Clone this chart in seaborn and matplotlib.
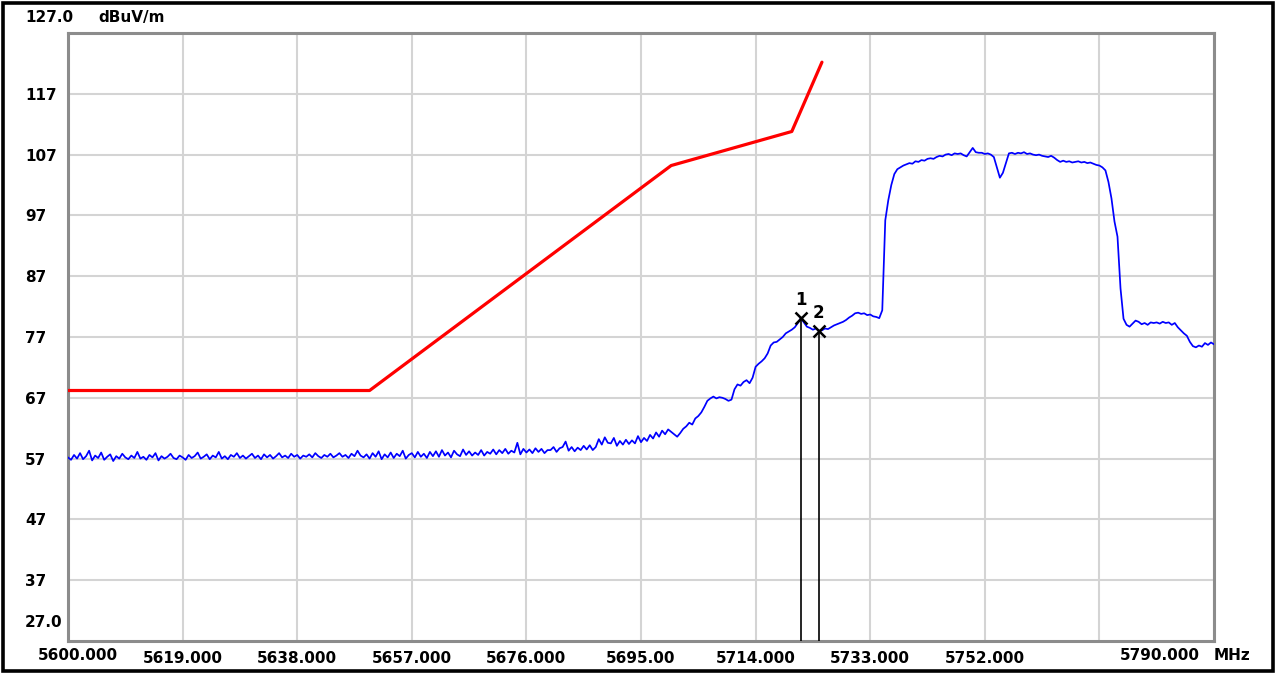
import numpy as np
import pandas as pd
import matplotlib
matplotlib.use("Agg")
import matplotlib.pyplot as plt
from matplotlib.patches import Rectangle
import seaborn as sns

# Sweep settings (MHz) and measured trace, 0.5 MHz per point
F_START = 5600.0
F_STOP = 5790.0
trace_dbuv = [
    # 5600 - 5609.5
    57.2, 56.8, 57.6, 57.0, 57.9, 56.9, 57.4, 58.3, 56.7, 57.5, 57.1, 58.0, 56.8, 57.3, 57.7, 56.6, 57.4, 57.0, 57.8, 57.2,
    # 5610 - 5619.5
    56.9, 57.5, 57.1, 58.1, 57.0, 57.3, 56.8, 57.6, 57.2, 57.9, 56.7, 57.4, 57.0, 57.3, 57.8, 57.1, 56.9, 57.5, 57.2, 56.8,
    # 5620 - 5629.5
    57.6, 57.1, 57.4, 58.0, 57.0, 57.3, 57.7, 56.9, 57.5, 57.2, 58.1, 57.0, 57.4, 56.9, 57.6, 57.3, 57.9, 57.1, 57.5, 57.0,
    # 5630 - 5639.5
    57.4, 57.8, 57.1, 57.5, 56.9, 57.7, 57.2, 57.6, 57.0, 57.4, 57.9, 57.2, 57.5, 57.1, 57.8, 57.3, 57.6, 57.0, 57.5, 57.3,
    # 5640 - 5649.5
    57.7, 57.2, 57.9, 57.4, 57.1, 57.6, 57.3, 57.8, 57.2, 57.5, 57.9, 57.3, 57.6, 57.1, 57.8, 57.4, 58.3, 57.5, 57.2, 57.7,
    # 5650 - 5659.5
    57.0, 57.9, 57.3, 58.2, 56.9, 57.7, 57.2, 58.0, 57.1, 57.8, 57.4, 58.3, 57.0, 57.6, 57.9, 57.2, 58.1, 57.3, 57.8, 57.1,
    # 5660 - 5669.5
    58.1, 57.4, 58.2, 57.3, 58.4, 57.5, 58.0, 57.2, 58.3, 57.7, 57.4, 58.5, 57.6, 58.2, 57.5, 58.0, 57.6, 58.4, 57.5, 58.1,
    # 5670 - 5679.5
    57.8, 58.5, 57.7, 58.4, 57.9, 58.6, 57.8, 58.3, 58.0, 59.6, 57.7, 58.6, 58.0, 58.5, 57.9, 58.7, 58.1, 58.6, 57.9, 58.4,
    # 5680 - 5689.5
    58.4, 58.9, 58.1, 58.7, 58.9, 59.8, 58.3, 58.9, 58.2, 58.8, 58.4, 59.1, 58.5, 59.2, 58.4, 58.9, 60.2, 59.3, 60.5, 59.6,
    # 5690 - 5699.5
    59.5, 60.4, 59.1, 59.9, 59.3, 60.1, 59.4, 60.0, 59.5, 60.7, 59.7, 60.4, 59.9, 60.9, 60.3, 61.3, 60.6, 61.6, 61.0, 61.8,
    # 5700 - 5709.5
    61.4, 61.0, 60.6, 61.2, 61.9, 62.3, 62.9, 62.6, 63.6, 64.0, 64.6, 65.5, 66.5, 66.9, 67.2, 66.9, 67.1, 67.0, 66.8, 66.5,
    # 5710 - 5719.5
    66.7, 68.4, 69.2, 69.0, 69.6, 69.9, 69.4, 70.3, 72.1, 72.6, 73.0, 73.5, 74.3, 75.6, 76.1, 76.2, 76.6, 77.0, 77.6, 77.9,
    # 5720 - 5729.5
    78.2, 78.6, 79.3, 80.1, 79.4, 78.7, 78.5, 78.2, 78.4, 78.0, 78.1, 78.4, 78.3, 78.6, 78.9, 79.1, 79.3, 79.5, 79.8, 80.2,
    # 5730 - 5739.5
    80.5, 80.9, 81.0, 80.8, 80.9, 80.6, 80.7, 80.4, 80.3, 80.1, 81.4, 96.2, 99.5, 102.0, 103.8, 104.6, 104.9, 105.2, 105.4, 105.6,
    # 5740 - 5749.5
    105.5, 105.9, 105.8, 106.1, 106.0, 106.3, 106.4, 106.3, 106.6, 106.8, 106.7, 107.0, 107.1, 106.9, 107.2, 107.1, 107.2, 106.9, 106.7, 107.4,
    # 5750 - 5759.5
    108.1, 107.4, 107.3, 107.3, 107.1, 107.2, 107.0, 106.6, 104.9, 103.2, 104.0, 105.6, 107.2, 107.3, 107.1, 107.3, 107.2, 107.4, 107.1, 107.2,
    # 5760 - 5769.5
    107.0, 106.9, 107.0, 106.8, 106.7, 106.6, 106.8, 106.5, 106.1, 105.8, 106.0, 105.8, 105.9, 105.7, 105.8, 105.9, 105.7, 105.8, 105.6, 105.7,
    # 5770 - 5779.5
    105.5, 105.3, 105.2, 104.9, 104.4, 102.5, 99.8, 96.0, 93.5, 85.0, 80.0, 79.0, 78.7, 79.2, 79.7, 79.5, 79.1, 79.3, 79.0, 79.4,
    # 5780 - 5790
    79.3, 79.4, 79.2, 79.5, 79.3, 79.4, 79.0, 79.3, 78.6, 78.1, 77.6, 77.2, 76.2, 75.5, 75.3, 75.6, 75.4, 76.0, 75.7, 76.1,
    75.8,
]

# Emission limit mask (dBuV/m)
mask_freq = [5600, 5650, 5700, 5720, 5725]
mask_level = [68.2, 68.2, 105.2, 110.8, 122.2]

# Markers
marker_freq = [5721.5, 5724.5]
marker_names = ["1", "2"]

# Axis scales and labels
Y_MIN, Y_MAX = 27.0, 127.0
y_grid = [37, 47, 57, 67, 77, 87, 97, 107, 117]
x_grid = [5600, 5619, 5638, 5657, 5676, 5695, 5714, 5733, 5752, 5771, 5790]
x_labels = ["", "5619.000", "5638.000", "5657.000", "5676.000", "5695.00",
            "5714.000", "5733.000", "5752.000", "", ""]

freq = np.linspace(F_START, F_STOP, len(trace_dbuv))
trace = pd.DataFrame({"freq": freq, "level": trace_dbuv})
mask = pd.DataFrame({"freq": mask_freq, "level": mask_level})

sns.set_theme(style="white")
plt.rcParams["font.family"] = ["DejaVu Sans"]
plt.rcParams["font.weight"] = "bold"

W, H = 1276, 673
fig = plt.figure(figsize=(W / 100, H / 100), dpi=100)
fig.patch.set_facecolor("white")
left, right, top, bottom = 68, 1214, 33, 641
ax = fig.add_axes([left / W, 1 - bottom / H, (right - left) / W, (bottom - top) / H])
ax.set_facecolor("white")

# Grid
ax.set_xlim(F_START, F_STOP)
ax.set_ylim(Y_MIN, Y_MAX)
ax.set_xticks(x_grid)
ax.set_xticklabels(x_labels, fontsize=11, fontweight="bold")
ax.set_yticks(y_grid)
ax.set_yticklabels([str(v) for v in y_grid], fontsize=11, fontweight="bold")
ax.grid(True, color="#d4d4d4", linewidth=1.5, zorder=0)
ax.set_axisbelow(True)
ax.tick_params(axis="both", length=0, colors="black")
ax.tick_params(axis="x", pad=7)
ax.tick_params(axis="y", pad=31)
for lbl in ax.get_yticklabels():
    lbl.set_horizontalalignment("left")
for sp in ax.spines.values():
    sp.set_color("#8c8c8c")
    sp.set_linewidth(2.2)

# Limit line and measured trace
sns.lineplot(data=mask, x="freq", y="level", color="#ff0000", linewidth=2.3,
             estimator=None, sort=False, ax=ax, zorder=3)
sns.lineplot(data=trace, x="freq", y="level", color="#0000ff", linewidth=1.25,
             estimator=None, sort=False, ax=ax, zorder=4)

# Markers with drop lines
for f, name in zip(marker_freq, marker_names):
    lvl = float(np.interp(f, freq, trace_dbuv))
    ax.vlines(f, Y_MIN, lvl, color="black", linewidth=1.2, zorder=5)
    ax.plot([f], [lvl], marker="x", markersize=8, markeredgewidth=1.8,
            color="black", linestyle="none", zorder=6)
    ax.annotate(name, xy=(f, lvl), xytext=(0, 13), textcoords="offset points",
                ha="center", va="center", fontsize=12, fontweight="bold",
                color="black", zorder=7)

ax.set_xlabel("")
ax.set_ylabel("")

# End-of-scale labels
lab_kw = dict(fontsize=11, fontweight="bold", color="black", annotation_clip=False)
ax.annotate("127.0", xy=(0, Y_MAX), xycoords=("axes fraction", "data"),
            xytext=(-31, 11), textcoords="offset points", ha="left", va="center", **lab_kw)
ax.annotate("dBuV/m", xy=(0, Y_MAX), xycoords=("axes fraction", "data"),
            xytext=(22, 11), textcoords="offset points", ha="left", va="center", **lab_kw)
ax.annotate("27.0", xy=(0, Y_MIN), xycoords=("axes fraction", "data"),
            xytext=(-31, 13.5), textcoords="offset points", ha="left", va="center", **lab_kw)
ax.annotate("5600.000", xy=(F_START, 0), xycoords=("data", "axes fraction"),
            xytext=(7, -10.5), textcoords="offset points", ha="center", va="center", **lab_kw)
ax.annotate("5790.000", xy=(F_STOP, 0), xycoords=("data", "axes fraction"),
            xytext=(-10, -10.5), textcoords="offset points", ha="right", va="center", **lab_kw)
ax.annotate("MHz", xy=(F_STOP, 0), xycoords=("data", "axes fraction"),
            xytext=(0, -10.5), textcoords="offset points", ha="left", va="center", **lab_kw)

# Outer frame
fig.patches.append(Rectangle((3 / W, 2.5 / H), (W - 6) / W, (H - 5) / H,
                             transform=fig.transFigure, fill=False,
                             edgecolor="black", linewidth=2.6, zorder=10))

fig.savefig("out.png", dpi=100, facecolor="white")
